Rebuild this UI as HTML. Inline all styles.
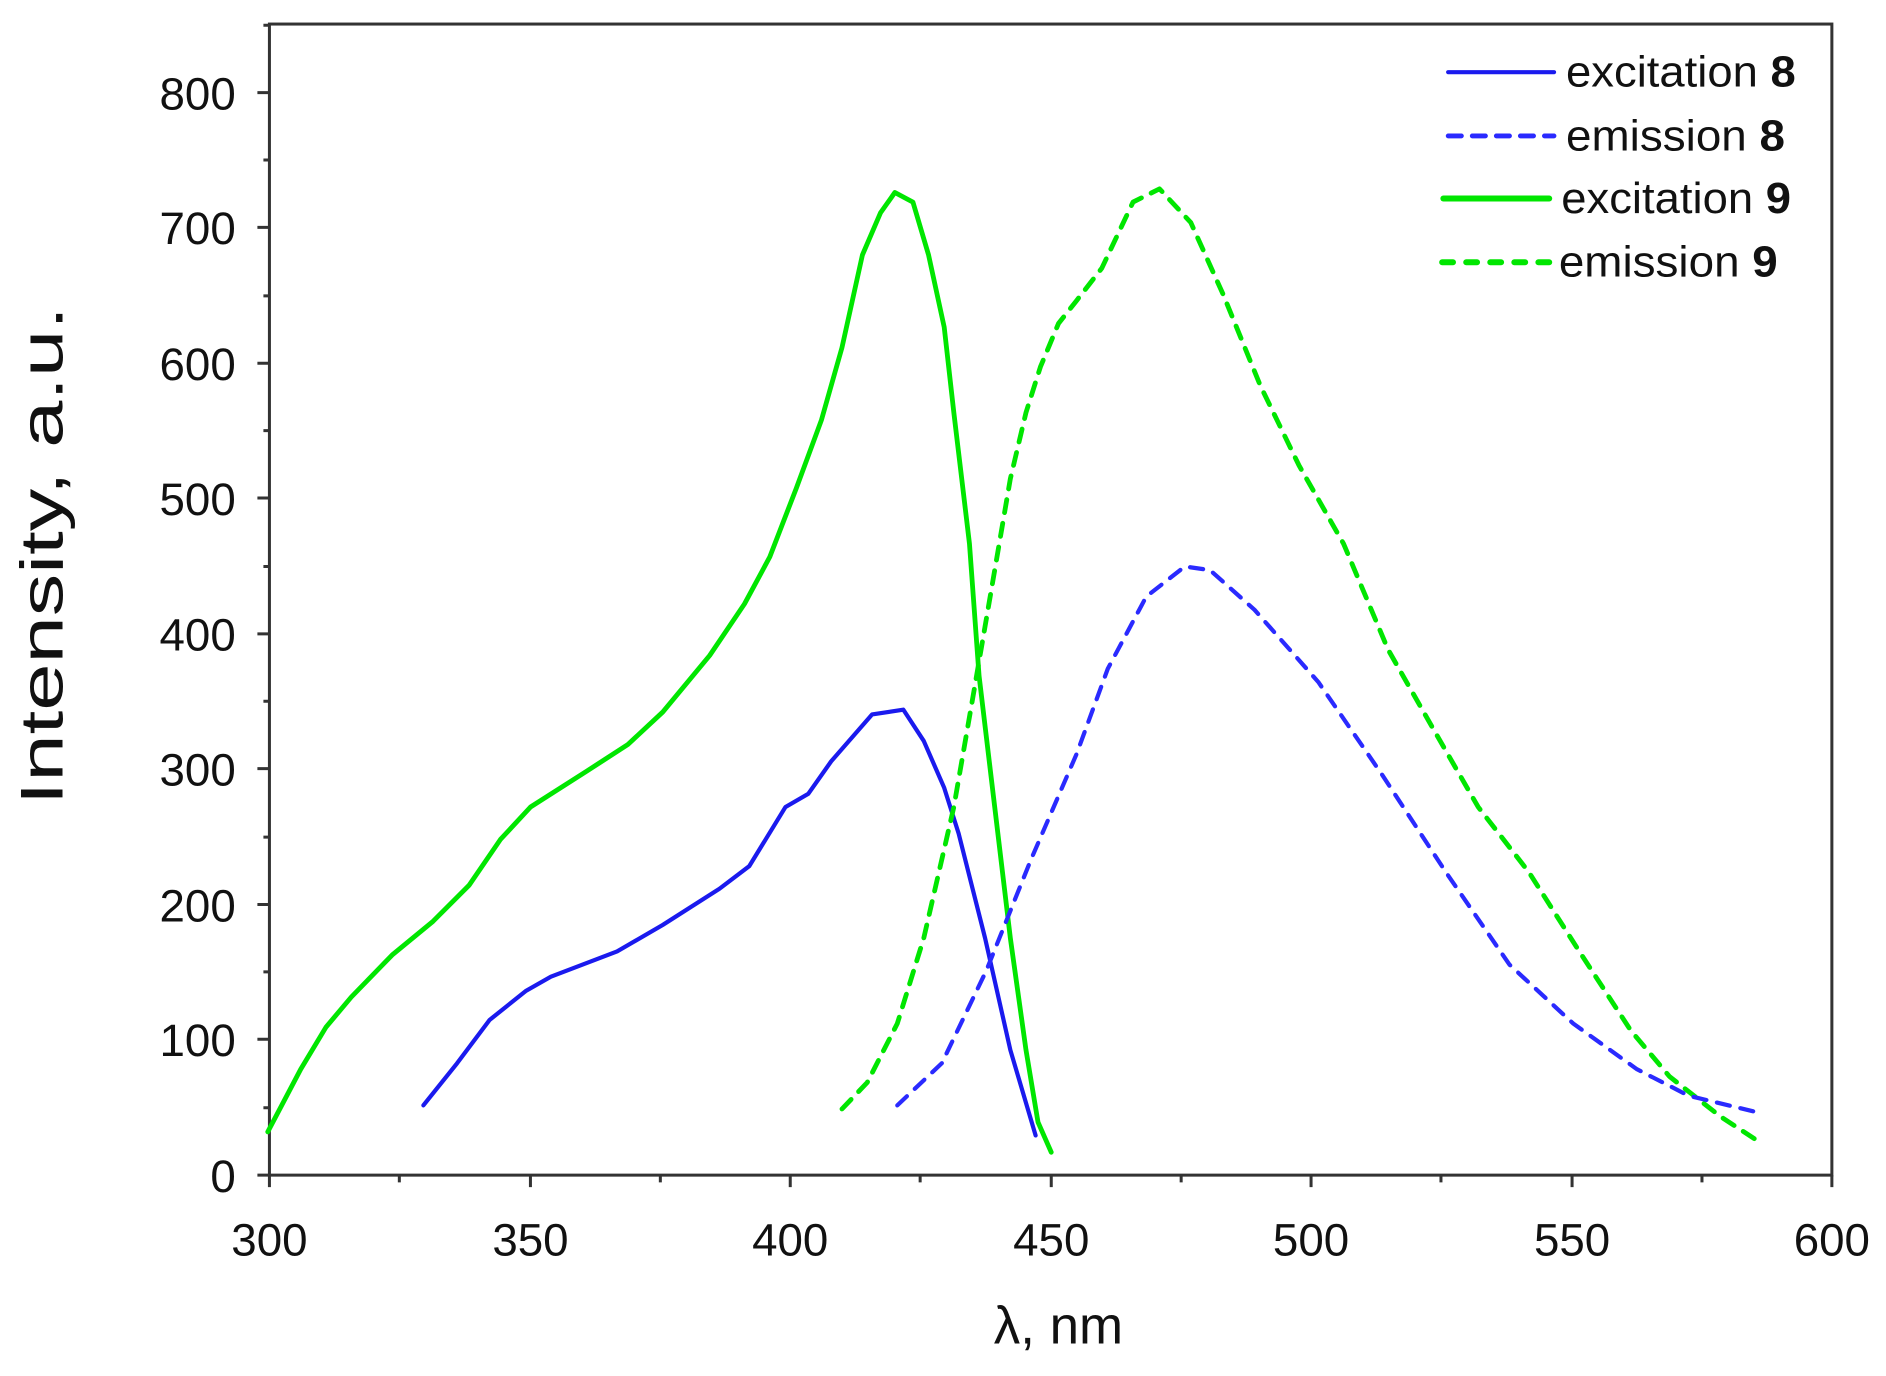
<!DOCTYPE html>
<html><head><style>html,body{margin:0;padding:0;background:#fff}svg{display:block}</style></head>
<body>
<svg width="1886" height="1376" viewBox="0 0 1568 1144" preserveAspectRatio="none" xmlns="http://www.w3.org/2000/svg" font-family="Liberation Sans, Arial, sans-serif">
<rect width="1568" height="1144" fill="#fff"/>
<g stroke="#333" stroke-width="2.5" fill="none">
<rect x="224" y="20" width="1299" height="957"/>
<path d="M224 977h-10M224 921h-5M224 864h-10M224 808h-5M224 752h-10M224 696h-5M224 639h-10M224 583h-5M224 527h-10M224 471h-5M224 414h-10M224 358h-5M224 302h-10M224 246h-5M224 189h-10M224 133h-5M224 77h-10M224 21h-5"/>
<path d="M224 977v10M332 977v6M441 977v10M549 977v6M657 977v10M765 977v6M874 977v10M982 977v6M1090 977v10M1198 977v6M1307 977v10M1415 977v6M1523 977v10"/>
</g>
<g font-size="38" fill="#111" text-anchor="end">
<text x="196" y="991">0</text><text x="196" y="878">100</text><text x="196" y="766">200</text><text x="196" y="653">300</text><text x="196" y="541">400</text><text x="196" y="428">500</text><text x="196" y="316">600</text><text x="196" y="203">700</text><text x="196" y="91">800</text>
</g>
<g font-size="38" fill="#111" text-anchor="middle">
<text x="224" y="1044">300</text><text x="441" y="1044">350</text><text x="657" y="1044">400</text><text x="874" y="1044">450</text><text x="1090" y="1044">500</text><text x="1307" y="1044">550</text><text x="1523" y="1044">600</text>
<text x="880" y="1117" font-size="44">λ, nm</text>
<text transform="translate(52,462) rotate(-90)" font-size="50" textLength="415" lengthAdjust="spacingAndGlyphs">Intensity, a.u.</text>
</g>
<g fill="none" stroke-width="4" stroke-linejoin="round" stroke-linecap="round">
<polyline stroke="#00e600" points="222.6,941 250,889 271,854 292,829 326,794 360,766 390,736 416,698 441,671 488,641 522,619 551,592 590,545 619,502 640,463 662,406 683,349 700,289 717,212 732,177 744,160 759,168 772,212 785,272 793,343 806,452 814,562 827,671 840,780 853,873 863,933 874,958"/>
<polyline stroke="#1a1aee" stroke-width="3.5" points="352,919 380,884 407,848 437,824 458,812 513,791 551,769 598,739 623,720 653,671 672,660 691,633 725,594 751,590 768,616 785,655 797,693 819,780 840,873 861,944"/>
<polyline stroke="#00e600" stroke-dasharray="11,9" points="700,922 721,900 746,851 768,780 793,671 810,573 827,474 840,398 853,343 865,305 880,269 895,250 916,223 942,168 964,157 990,185 1017,245 1048,321 1080,387 1117,452 1154,540 1191,605 1229,671 1271,725 1313,791 1356,857 1388,895 1430,928 1462,949"/>
<polyline stroke="#2a2aff" stroke-width="3.5" stroke-dasharray="11,9" points="746,919 783,884 820,807 857,715 895,627 921,556 953,496 985,471 1006,474 1043,507 1096,567 1149,644 1202,725 1255,802 1308,851 1361,889 1404,911 1462,925"/>
<line x1="1204" y1="60" x2="1292" y2="60" stroke="#1a1aee" stroke-width="3.5"/>
<line x1="1204" y1="113" x2="1292" y2="113" stroke="#2a2aff" stroke-width="4" stroke-dasharray="11,9"/>
<line x1="1200" y1="165" x2="1288" y2="165" stroke="#00e600" stroke-width="5"/>
<line x1="1199" y1="218" x2="1288" y2="218" stroke="#00e600" stroke-width="5" stroke-dasharray="9,11"/>
</g>
<g font-size="36" fill="#111">
<text x="1302" y="72" textLength="191" lengthAdjust="spacingAndGlyphs">excitation <tspan font-weight="bold">8</tspan></text>
<text x="1302" y="125" textLength="182" lengthAdjust="spacingAndGlyphs">emission <tspan font-weight="bold">8</tspan></text>
<text x="1298" y="177" textLength="191" lengthAdjust="spacingAndGlyphs">excitation <tspan font-weight="bold">9</tspan></text>
<text x="1296" y="230" textLength="182" lengthAdjust="spacingAndGlyphs">emission <tspan font-weight="bold">9</tspan></text>
</g>
</svg>
</body></html>
